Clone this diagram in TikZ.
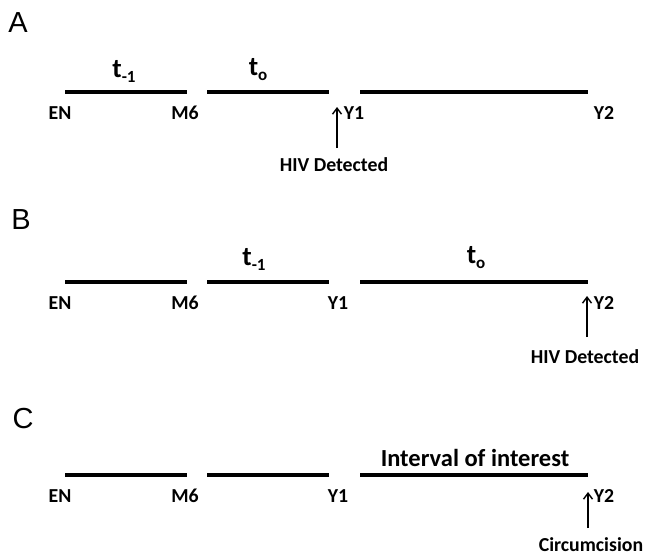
\documentclass[tikz,border=0pt]{standalone}
\usepackage{fontspec}
\setmainfont{Carlito}
\newfontfamily\panelfont{Liberation Sans}
\usetikzlibrary{arrows.meta}
\newcommand\mysub[1]{t\raisebox{-5pt}{\fontsize{17}{17}\selectfont #1}}
\begin{document}
\begin{tikzpicture}[x=1pt,y=-1pt,
 bar/.style={line width=4pt},
 lbl/.style={font=\fontsize{19.8}{19.8}\selectfont\bfseries, anchor=base, inner sep=0pt},
 tlbl/.style={font=\fontsize{27}{27}\selectfont\bfseries, anchor=base, inner sep=0pt},
 big/.style={font=\fontsize{24.5}{24.5}\selectfont\bfseries, anchor=base, inner sep=0pt},
 panel/.style={font=\fontsize{29}{29}\selectfont\panelfont, anchor=base, inner sep=0pt},
 evt/.style={line width=1.4pt, -{Straight Barb[length=6pt,width=9pt]}}]
\useasboundingbox (0,0) rectangle (647,555);

% ---------- Panel A ----------
\node[panel] (pA) at (18,32) {A};
\coordinate (A1) at (65,92);  \coordinate (A2) at (187,92);
\coordinate (A3) at (207,92); \coordinate (A4) at (329,92);
\coordinate (A5) at (360,92); \coordinate (A6) at (588,92);
\draw[bar] (A1) -- (A2);
\draw[bar] (A3) -- (A4);
\draw[bar] (A5) -- (A6);
\node[tlbl] (tA1) at (124,77) {\mysub{-1}};
\node[tlbl] (tA0) at (258,75) {\mysub{o}};
\node[lbl] (enA) at (60,119) {EN};
\node[lbl] (m6A) at (185,119) {M6};
\node[lbl] (y1A) at (354,119) {Y1};
\node[lbl] (y2A) at (604,119) {Y2};
\node[lbl] (hivA) at (334,171) {HIV Detected};
\coordinate (arA1) at (337,148); \coordinate (arA2) at (337,107);
\draw[evt] (arA1) -- (arA2);

% ---------- Panel B ----------
\node[panel] (pB) at (21,229) {B};
\coordinate (B1) at (65,282);  \coordinate (B2) at (187,282);
\coordinate (B3) at (207,282); \coordinate (B4) at (329,282);
\coordinate (B5) at (360,282); \coordinate (B6) at (588,282);
\draw[bar] (B1) -- (B2);
\draw[bar] (B3) -- (B4);
\draw[bar] (B5) -- (B6);
\node[tlbl] (tB1) at (254,265) {\mysub{-1}};
\node[tlbl] (tB0) at (476,263) {\mysub{o}};
\node[lbl] (enB) at (60,309) {EN};
\node[lbl] (m6B) at (185,309) {M6};
\node[lbl] (y1B) at (338,309) {Y1};
\node[lbl] (y2B) at (604,309) {Y2};
\node[lbl] (hivB) at (585,363) {HIV Detected};
\coordinate (arB1) at (587,337); \coordinate (arB2) at (587,296);
\draw[evt] (arB1) -- (arB2);

% ---------- Panel C ----------
\node[panel] (pC) at (23,428) {C};
\coordinate (C1) at (65,475);  \coordinate (C2) at (187,475);
\coordinate (C3) at (207,475); \coordinate (C4) at (329,475);
\coordinate (C5) at (360,475); \coordinate (C6) at (588,475);
\draw[bar] (C1) -- (C2);
\draw[bar] (C3) -- (C4);
\draw[bar] (C5) -- (C6);
\node[big] (ioi) at (475,466) {Interval of interest};
\node[lbl] (enC) at (60,502) {EN};
\node[lbl] (m6C) at (185,502) {M6};
\node[lbl] (y1C) at (338,502) {Y1};
\node[lbl] (y2C) at (604,502) {Y2};
\node[lbl] (circ) at (591,551.5) {Circumcision};
\coordinate (arC1) at (588,528); \coordinate (arC2) at (588,492);
\draw[evt] (arC1) -- (arC2);
\end{tikzpicture}
\end{document}
